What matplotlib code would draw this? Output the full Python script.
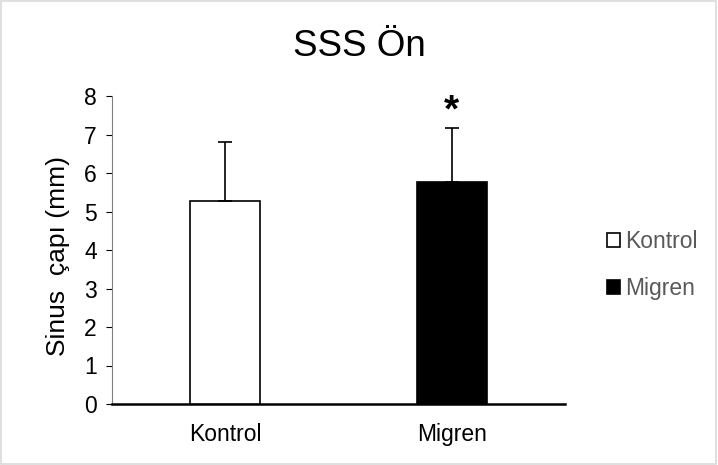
import matplotlib.pyplot as plt
from matplotlib.patches import Patch, Rectangle

plt.rcParams['font.family'] = ['Liberation Sans', 'DejaVu Sans']

groups = ["Kontrol", "Migren"]
means = [5.28, 5.76]
errs = [1.52, 1.40]
colors = ["white", "black"]

fig = plt.figure(figsize=(7.18, 4.65), dpi=100, facecolor='white')
ax = fig.add_axes([112 / 718, 1 - 404 / 465, 453 / 718, 308 / 465])

x = range(len(groups))
ax.bar(x, means, width=0.31, color=colors, edgecolor='black', linewidth=1.2,
       yerr=[[0, 0], errs], capsize=5,
       error_kw=dict(ecolor='black', elinewidth=1.2, capthick=1.2), zorder=3)

ax.set_xlim(-0.5, 1.5)
ax.set_ylim(0, 8)
ax.set_xticks(list(x))
ax.set_xticklabels(groups, fontsize=16.5)
ax.set_yticks(range(0, 9))
ax.tick_params(axis='y', labelsize=16.5, length=4, width=0.8, direction='out', pad=7)
ax.tick_params(axis='x', length=0, pad=14)
for s in ['top', 'right']:
    ax.spines[s].set_visible(False)
ax.spines['left'].set_color('#808080')
ax.spines['left'].set_linewidth(0.8)
ax.spines['bottom'].set_linewidth(1.8)
ax.set_ylabel("Sinus  çapı (mm)", fontsize=19, va='center')
ax.yaxis.set_label_coords(-54 / 453, 0.48)

ax.text(1, means[1] + errs[1] + 0.45, "*", ha='center', va='center',
        fontsize=28, fontweight='bold')

fig.text(0.5, 1 - 47 / 465, "SSS Ön", ha='center', va='center', fontsize=26.5)

handles = [Patch(facecolor=c, edgecolor='black', linewidth=1.2, label=g)
           for g, c in zip(groups, colors)]
leg = fig.legend(handles=handles, loc='center left', bbox_to_anchor=(586 / 718, 1 - 265 / 465),
                 frameon=False, fontsize=16.5, handlelength=0.6, handleheight=0.6,
                 handletextpad=0.2, labelspacing=1.05)
for t in leg.get_texts():
    t.set_color('#595959')

fig.patches.append(Rectangle((0.002, 0.003), 0.995, 0.994, transform=fig.transFigure,
                             fill=False, edgecolor='#d9d9d9', linewidth=1.2))

fig.savefig("out.png", dpi=100, facecolor='white')
